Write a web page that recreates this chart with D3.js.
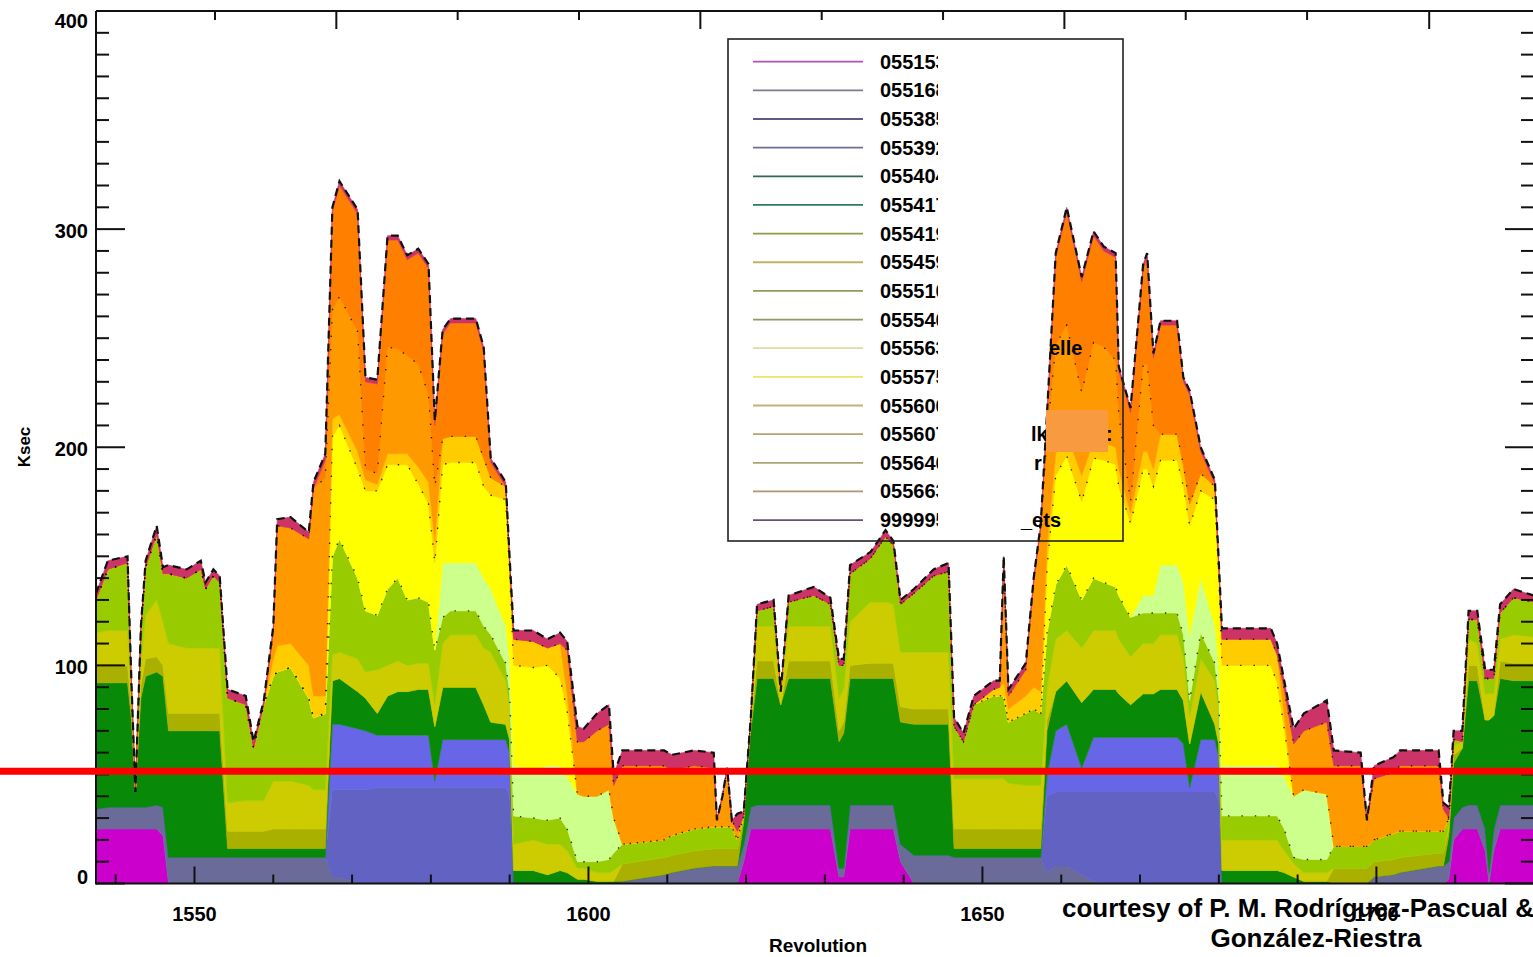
<!DOCTYPE html>
<html><head><meta charset="utf-8">
<script src="https://cdn.jsdelivr.net/npm/d3@7"></script>
<style>
html,body{margin:0;padding:0;background:#fff;overflow:hidden;}
svg{display:block;}
text{font-family:"Liberation Sans",Arial,Helvetica,sans-serif;font-weight:bold;fill:#000;}
</style>
</head><body>
<svg id="c" width="1533" height="957"></svg>
<script>
// ---------------- DATA ----------------
const revolutions = [1537.5,1539,1541.5,1542,1542.5,1543.2,1543.8,1545.2,1546,1546.7,
 1549,1550.8,1551.4,1552.4,1553.2,1554.2,1556.5,1557.5,1558.8,1560,
 1560.5,1562.2,1564.5,1565.1,1566.6,1567.5,1568.4,1570.7,1571.7,1573.2,
 1574.5,1575.8,1577,1578.4,1579.7,1580.5,1581.5,1582.5,1585.7,1586.7,
 1587.6,1589.5,1590,1590.5,1593,1594.8,1596.4,1597.3,1598.6,1599.4,
 1601.1,1602.6,1603.2,1604.3,1609.6,1610.6,1613.4,1615.9,1616.3,1617,
 1617.6,1618.2,1618.9,1619.7,1620.6,1621.4,1623.5,1624.4,1625.4,1628.6,
 1630.7,1631.8,1632.4,1633.2,1635.8,1637.7,1638.7,1639.6,1641.3,1643.8,
 1645.7,1646.4,1647.6,1648.9,1651.4,1652.2,1652.7,1653.3,1655.5,1656.5,
 1657.4,1658.2,1659.3,1660.7,1662.6,1664.1,1665.4,1666.9,1667.3,1668.8,
 1670.4,1670.9,1671.7,1672.6,1674.7,1675.5,1676.3,1677.7,1679.5,1680,
 1680.4,1686.6,1687.4,1688.3,1689.5,1690.8,1693.7,1694.6,1698,1698.8,
 1699.7,1702.2,1703,1707.9,1708.5,1709.2,1709.8,1710.9,1711.7,1712.8,
 1713.8,1714.3,1714.9,1715.7,1717.4,1720];

const s055153 = [25,25,25,25,25,25,25,25,22,0, 0,0,0,0,0,0,0,0,0,0, 0,0,0,0,0,0,0,0,0,0, 0,0,0,0,0,0,0,0,0,0,
 0,0,0,0,0,0,0,0,0,0, 0,0,0,0,0,0,0,0,0,0, 0,0,0,10,25,25,25,25,25,25, 25,3,3,25,25,25,25,10,0,0,
 0,0,0,0,0,0,0,0,0,0, 0,0,0,0,0,0,0,0,0,0, 0,0,0,0,0,0,0,0,0,0, 0,0,0,0,0,0,0,0,0,0,
 0,0,0,0,0,2,20,25,25,25, 15,0,15,25,25,25];
const s055168 = [9,10,10,10,10,10,10,11,13,12, 12,12,12,12,12,12,12,12,12,12, 12,12,12,12,12,3,3,0,0,0, 0,0,0,0,0,0,0,0,0,0,
 0,0,0,0,0,0,0,0,0,0, 0,0,0,1,4,5,7,8,8,8, 8,8,8,8,10,11,11,11,11,11, 11,4,4,11,11,11,11,8,13,13,
 13,12,12,12,12,12,12,12,12,12, 12,5,8,8,4,1,0,0,0,0, 0,0,0,0,0,0,0,0,0,0, 0,0,0,0,0,0,0,0,0,0,
 3,4,5,8,8,8,10,10,11,11, 10,5,10,11,11,11];
const s055385 = [0,0,0,0,0,0,0,0,0,0, 0,0,0,0,0,0,0,0,0,0, 0,0,0,0,0,40,40,43,43,44, 44,44,44,44,44,44,44,44,44,44,
 44,44,40,0,0,0,0,0,0,0, 0,0,0,0,0,0,0,0,0,0, 0,0,0,0,0,0,0,0,0,0, 0,0,0,0,0,0,0,0,0,0,
 0,0,0,0,0,0,0,0,0,0, 0,35,34,34,38,41,42,42,42,42, 42,42,42,42,42,42,42,42,42,38, 0,0,0,0,0,0,0,0,0,0,
 0,0,0,0,0,0,0,0,0,0, 0,0,0,0,0,0];
const s055392 = [0,0,0,0,0,0,0,0,0,0, 0,0,0,0,0,0,0,0,0,0, 0,0,0,0,0,30,30,28,27,24, 24,24,24,24,24,3,22,22,22,22,
 22,22,20,0,0,0,0,0,0,0, 0,0,0,0,0,0,0,0,0,0, 0,0,0,0,0,0,0,0,0,0, 0,0,0,0,0,0,0,0,0,0,
 0,0,0,0,0,0,0,0,0,0, 0,10,28,31,11,25,25,25,25,25, 25,25,25,25,25,22,2,24,24,20, 0,0,0,0,0,0,0,0,0,0,
 0,0,0,0,0,0,0,0,0,0, 0,0,0,0,0,0];
const s055404 = [58,57,57,40,7,50,60,61,60,58, 58,58,58,58,58,4,4,4,4,4, 4,4,4,4,4,20,21,17,15,10, 18,20,20,21,21,25,24,24,24,16,
 8,7,6,6,6,4,6,5,2,2, 1,1,1,0,0,0,0,0,0,0, 0,0,0,10,35,58,58,46,58,58, 58,58,62,58,58,58,58,56,60,60,
 60,4,4,4,4,4,4,4,4,4, 4,20,18,20,30,22,22,22,20,15, 20,20,20,22,22,20,20,22,7,6, 6,6,6,5,3,1,1,0,0,0,
 0,0,0,0,0,12,25,27,57,57, 50,70,52,58,57,57];
const s055419 = [8,8,8,5,0,6,8,7,5,8, 8,8,8,8,8,8,8,8,8,9, 9,9,9,9,9,0,0,0,0,0, 0,0,0,0,0,0,0,0,0,0,
 0,0,0,0,0,0,0,0,0,0, 0,0,0,8,8,8,8,8,8,8, 8,8,8,3,3,8,8,0,8,8, 8,5,5,6,7,7,7,7,7,7,
 7,9,9,9,9,9,9,9,9,9, 9,5,0,0,0,0,0,0,0,0, 0,0,0,0,0,0,0,0,0,0, 0,0,0,0,0,0,0,7,7,7,
 7,7,7,6,6,3,4,0,7,7, 0,0,0,8,8,8];
const s055459 = [15,16,16,5,0,10,20,26,20,32, 30,30,30,30,30,13,14,14,14,22, 22,22,20,18,18,12,12,15,12,20, 14,14,12,12,12,10,20,24,24,26,
 32,20,15,12,14,14,12,10,5,5, 4,4,5,0,0,0,0,0,0,0, 0,0,0,0,3,16,16,6,16,16, 16,15,15,20,28,28,27,25,26,26,
 26,23,23,23,23,23,23,21,20,20, 20,15,24,23,25,27,27,27,25,22, 23,23,23,25,25,20,12,15,20,15, 14,14,14,10,6,4,4,0,0,0,
 0,0,0,0,0,3,4,3,12,10, 12,12,10,10,13,12];
const s055510 = [15,28,31,5,0,15,22,30,22,32, 32,36,27,33,30,48,44,24,44,48, 50,52,40,33,35,45,52,37,28,25, 35,38,30,30,28,25,12,11,11,10,
 8,8,6,13,10,11,12,10,3,3, 5,6,8,9,8,9,10,10,10,10, 10,10,4,0,0,7,9,0,11,14, 10,15,11,22,20,30,27,22,27,35,
 37,24,17,34,38,38,38,28,33,35, 33,25,25,30,22,24,22,20,20,18, 14,14,14,10,10,10,8,12,8,6, 11,11,11,10,3,6,6,10,10,10,
 10,12,12,10,10,2,3,0,9,11, 7,7,7,12,17,16];
const s055563 = [0,0,0,0,0,0,0,0,0,0, 0,0,0,0,0,0,0,0,0,0, 0,0,0,0,0,0,0,0,0,0, 0,0,0,0,0,0,25,22,22,22,
 21,17,15,23,22,25,24,24,31,30, 30,32,16,0,0,0,0,0,0,0, 0,0,0,0,0,0,0,0,0,0, 0,0,0,0,0,0,0,0,0,0,
 0,0,0,0,0,0,0,0,0,0, 0,0,0,0,0,0,0,0,0,0, 8,8,8,22,22,24,30,25,17,15, 23,23,23,24,28,32,30,0,0,0,
 0,0,0,0,0,0,0,0,0,0, 0,0,0,0,0,0];
const s055575 = [0,0,0,0,0,0,0,0,0,0, 0,0,0,0,0,0,0,0,0,0, 0,0,0,0,0,55,52,50,55,57, 57,52,62,52,45,40,45,46,46,42,
 43,58,40,46,47,46,40,30,0,0, 0,0,0,0,0,0,0,0,0,0, 0,0,0,0,0,0,0,0,0,0, 0,0,0,0,0,0,0,0,0,0,
 0,0,0,0,0,0,0,0,0,0, 0,30,50,50,45,55,56,56,50,43, 58,58,50,48,48,44,50,40,58,40, 46,46,38,22,0,0,0,0,0,0,
 0,0,0,0,0,0,0,0,0,0, 0,0,0,0,0,0];
const s055600 = [0,0,0,0,0,0,0,0,0,0, 0,0,0,0,0,0,0,0,0,8, 12,11,15,10,8,8,5,8,5,3, 5,5,5,8,10,10,12,12,12,13,
 8,6,5,12,12,8,16,8,0,0, 0,0,0,0,0,0,0,0,0,0, 0,0,0,0,0,0,0,0,0,0, 0,0,0,0,0,0,0,0,0,0,
 0,0,0,0,3,4,6,6,8,10, 10,10,10,10,12,8,8,8,8,5, 8,8,8,12,12,10,10,8,6,5, 12,12,13,6,0,0,0,0,0,0,
 0,0,0,0,0,0,0,0,0,0, 0,0,0,0,0,0];
const s055607 = [0,0,0,0,0,0,0,0,0,0, 0,0,0,0,0,0,0,0,0,12, 55,53,58,95,100,50,54,55,5,5, 49,48,45,47,40,25,0,0,0,0,
 0,0,0,0,0,0,0,20,24,25, 30,30,15,36,34,30,29,27,3,14, 27,3,4,0,0,0,0,0,0,0, 0,0,0,0,0,0,0,0,0,0,
 0,0,0,0,0,0,55,6,12,48, 75,50,50,50,38,45,44,40,25,5, 40,40,20,0,0,0,0,0,0,0, 0,0,0,12,24,27,33,37,37,12,
 28,28,30,30,10,0,0,0,0,0, 0,0,0,0,0,0];
const s055663 = [0,0,0,0,0,0,0,0,0,0, 0,0,0,0,0,0,0,0,0,0, 0,0,0,0,8,45,51,54,40,41, 49,50,44,51,58,28,48,52,52,49,
 7,0,0,0,0,0,0,0,0,0, 0,0,0,0,0,0,0,0,0,0, 0,0,0,0,0,0,0,0,0,0, 0,0,0,0,0,0,0,0,0,0,
 0,0,0,0,0,0,0,0,0,0, 0,9,40,52,51,49,44,47,20,41, 44,49,31,50,50,38,50,10,1,0, 0,0,0,0,0,0,0,0,0,0,
 0,0,0,0,0,0,0,0,0,0, 0,0,0,0,0,0];
const s999995 = [3,4,3,2,0,2,3,4,3,4, 4,4,3,3,3,4,4,3,2,3, 3,5,3,3,3,2,2,2,2,2, 2,2,2,2,2,2,2,2,2,2,
 2,2,2,4,5,4,5,4,7,6, 8,9,5,7,7,7,7,7,0,0, 0,0,8,2,0,3,3,0,3,4, 3,3,3,4,3,3,2,2,2,3,
 4,4,4,4,4,3,3,3,3,2, 2,2,2,2,2,2,2,2,2,2, 2,2,2,2,2,2,2,2,2,2, 5,5,5,4,7,8,10,7,6,0,
 6,7,7,7,3,5,4,5,4,4, 4,4,4,4,4,3];

const seriesKeys = ["055153","055168","055385","055392","055404","055419","055459","055510","055563","055575","055600","055607","055663","999995"];
const seriesValues = [s055153,s055168,s055385,s055392,s055404,s055419,s055459,s055510,s055563,s055575,s055600,s055607,s055663,s999995];
const seriesColors = ["#cc00cc","#6b6b99","#6262c2","#6666e6","#088a08","#a9b000","#cccc00","#99cc00","#ccff8c","#ffff00","#ffcc00","#ff9900","#ff7f00","#cc3366"];

const legendLabels = ["055153","055168","055385","055392","055404","055417","055419","055459","055510","055540","055563","055575","055600","055607","055640","055663","999995"];
const legendColors = ["#b050b0","#7c7c8c","#5c5c84","#6c6c9c","#2c6c4c","#2c7c5c","#8c9c4c","#bcb464","#8c9c5c","#8c9c5c","#dcdca4","#ece464","#bcb474","#b4a474","#aca474","#ac9474","#6c4c7c"];
const legendFragments = [{row:10,x:1049,t:"elle"},{row:13,x:1031,t:"lk"},{row:13,x:1106,t:":"},{row:14,x:1034,t:"r"},{row:16,x:1021,t:"_ets"}];

const yTicksMajor = [0,100,200,300,400];
const xTicksMajor = [1550,1600,1650,1700];
const topTickRevs = [1552.6,1568.0,1583.4,1598.8,1614.2,1629.6,1645.0,1660.4,1675.8,1691.2,1706.7];
const topTickMajor = [false,true,false,false,true,false,false,true,false,false,true];
const thresholdKsec = 51.5;

// ---------------- CHART ----------------
const svg = d3.select("#c");
const L=96, R=1534, T=11, B=883.5;
const x = d3.scaleLinear().domain([1537.5,1720]).range([L,R]);
const y = d3.scaleLinear().domain([0,400]).range([B,T]);

const bad = seriesValues.map((s,i)=>[seriesKeys[i],s.length]).filter(d=>d[1]!==revolutions.length);
if(bad.length){svg.append("text").attr("x",200).attr("y",60).style("fill","red").text("LEN "+revolutions.length+" "+bad.map(d=>d.join(":")).join(" "));}

const table = revolutions.map((r,i)=>{const o={rev:r}; seriesKeys.forEach((k,j)=>o[k]=seriesValues[j][i]||0); return o;});
const stacked = d3.stack().keys(seriesKeys)(table);

svg.append("defs").append("clipPath").attr("id","plotclip").append("rect").attr("x",L).attr("y",T).attr("width",R-L).attr("height",B-T);
const g = svg.append("g").attr("clip-path","url(#plotclip)");

const area = d3.area().x(d=>x(d.data.rev)).y0(d=>y(d[0])).y1(d=>y(d[1]));
g.selectAll("path.layer").data(stacked).join("path").attr("class","layer")
 .attr("d",area).attr("fill",(d,i)=>seriesColors[i]).attr("stroke",(d,i)=>seriesColors[i]).attr("stroke-width",0.6);

const topLine = d3.line().x(d=>x(d.data.rev)).y(d=>y(d[1]));
[7,9,11].forEach(i=>{
  g.append("path").attr("d",topLine(stacked[i])).attr("fill","none").attr("stroke","#111")
   .attr("stroke-width",1.4).attr("stroke-dasharray","1.4,12").attr("opacity",0.85);
});
g.append("path").attr("d",topLine(stacked[stacked.length-1])).attr("fill","none").attr("stroke","#111")
 .attr("stroke-width",2.2).attr("stroke-dasharray","8,5");

// axes frame
const ax = svg.append("g").attr("stroke","#111").attr("stroke-width",2);
ax.append("line").attr("x1",L).attr("x2",L).attr("y1",T).attr("y2",B+1);
ax.append("line").attr("x1",L).attr("x2",R).attr("y1",B).attr("y2",B);
ax.append("line").attr("x1",L).attr("x2",R).attr("y1",T).attr("y2",T);
// y ticks (left & right)
d3.range(0,401,10).forEach(v=>{
  const major = yTicksMajor.includes(v);
  const len = major?29:13;
  ax.append("line").attr("x1",L).attr("x2",L+len).attr("y1",y(v)).attr("y2",y(v));
  ax.append("line").attr("x1",R-len).attr("x2",R).attr("y1",y(v)).attr("y2",y(v));
});
// x ticks bottom
d3.range(1540,1721,10).forEach(v=>{
  const major = xTicksMajor.includes(v);
  ax.append("line").attr("x1",x(v)).attr("x2",x(v)).attr("y1",B).attr("y2",B-(major?17:9));
});
// top ticks
topTickRevs.forEach((v,i)=>{
  ax.append("line").attr("x1",x(v)).attr("x2",x(v)).attr("y1",T).attr("y2",T+(topTickMajor[i]?18:9));
});

// tick labels
yTicksMajor.forEach(v=>{
  const yy = Math.min(Math.max(y(v)+2,21),877);
  svg.append("text").attr("x",88).attr("y",yy).attr("text-anchor","end").attr("dominant-baseline","central")
   .style("font-size","20px").text(v);
});
xTicksMajor.forEach(v=>{
  svg.append("text").attr("x",x(v)).attr("y",921).attr("text-anchor","middle").style("font-size","20px").text(v);
});
svg.append("text").attr("transform","translate(30,447) rotate(-90)").attr("text-anchor","middle")
 .style("font-size","17px").text("Ksec");
svg.append("text").attr("x",818).attr("y",952).attr("text-anchor","middle").style("font-size","19px").text("Revolution");

// threshold red line
svg.append("line").attr("x1",0).attr("x2",1533).attr("y1",y(thresholdKsec)).attr("y2",y(thresholdKsec))
 .attr("stroke","#ff0000").attr("stroke-width",7);

// legend
const lg = svg.append("g");
const rowY = i => 61.7 + i*28.65;
lg.append("rect").attr("x",728).attr("y",39).attr("width",395).attr("height",502)
 .attr("fill","none").attr("stroke","#222").attr("stroke-width",1.6);
legendLabels.forEach((lab,i)=>{
  lg.append("line").attr("x1",753).attr("x2",863).attr("y1",rowY(i)).attr("y2",rowY(i))
   .attr("stroke",legendColors[i]).attr("stroke-width",1.8);
});
svg.select("defs").append("clipPath").attr("id","legclip").append("rect").attr("x",870).attr("y",40).attr("width",68).attr("height",500);
const lt = lg.append("g").attr("clip-path","url(#legclip)");
legendLabels.forEach((lab,i)=>{
  lt.append("text").attr("x",880).attr("y",rowY(i)).attr("dominant-baseline","central")
   .style("font-size","20px").text(lab);
});
// pasted cover over names
lg.append("rect").attr("x",938).attr("y",41).attr("width",98).attr("height",488).attr("fill","#fff");
legendFragments.forEach(f=>{
  lg.append("text").attr("x",f.x).attr("y",rowY(f.row)).attr("dominant-baseline","central")
   .style("font-size","20px").text(f.t);
});
lg.append("rect").attr("x",1046).attr("y",410).attr("width",62).attr("height",42).attr("fill","#f89a40");

// credit
svg.append("text").attr("x",1062).attr("y",917).style("font-size","26px").text("courtesy of P. M. Rodríguez-Pascual &");
svg.append("text").attr("x",1316).attr("y",947).attr("text-anchor","middle").style("font-size","26px").text("González-Riestra");
</script>
</body></html>
